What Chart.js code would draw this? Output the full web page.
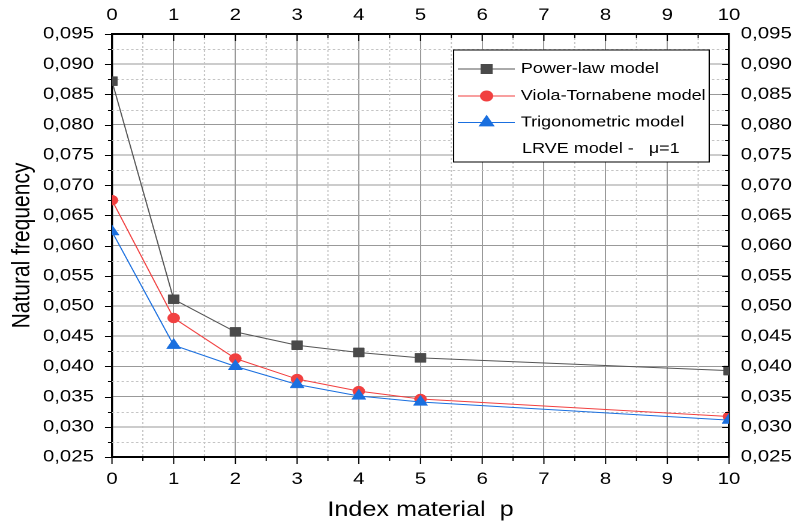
<!DOCTYPE html>
<html>
<head>
<meta charset="utf-8">
<script src="https://cdn.jsdelivr.net/npm/chart.js@4.4.0/dist/chart.umd.min.js"></script>
<style>
  html, body { margin: 0; padding: 0; background: #fff; overflow: hidden; }
  /* canvas laid out narrow, then widened 1.2x so the glyphs come out broad */
  #wrap { width: 663px; height: 524px; transform: scaleX(1.2); transform-origin: 0 0; }
</style>
</head>
<body>
<div id="wrap"><canvas id="freq"></canvas></div>
<script>
// index material p
const indexP = [0, 1, 2, 3, 4, 5, 10];
// natural frequency, LRVE model, mu = 1
const powerLaw = [0.0872, 0.0511, 0.0457, 0.0435, 0.0423, 0.0414, 0.0393];
const violaTornabene = [0.0675, 0.0480, 0.0413, 0.0379, 0.0359, 0.0346, 0.0317];
const trigonometric = [0.0623, 0.0435, 0.0400, 0.0370, 0.0351, 0.0341, 0.0311];

const seriesNames = ['Power-law model', 'Viola-Tornabene model', 'Trigonometric model'];
const legendNote = 'LRVE model -   \u03bc=1';

const xMin = 0, xMax = 10, xStep = 1;
const yMin = 0.025, yMax = 0.095, yStep = 0.005;

Chart.defaults.font.family = "'Liberation Sans', Arial, sans-serif";
Chart.defaults.color = '#000';

const styles = [
  { color: '#4a4a4a', line: '#555555', pointStyle: 'rect', radius: 6.4 },
  { color: '#f14040', line: '#f14040', pointStyle: 'circle', radius: 5 },
  { color: '#1a6fdf', line: '#1a6fdf', pointStyle: 'triangle', radius: 6.8 }
];

function comma(v) {
  return v.toFixed(3).replace('.', ',');
}

function makeSet(i, values) {
  const s = styles[i];
  return {
    label: seriesNames[i],
    data: indexP.map((p, k) => ({ x: p, y: values[k] })),
    borderColor: s.line,
    borderWidth: 1,
    backgroundColor: s.color,
    pointBackgroundColor: s.color,
    pointBorderColor: s.color,
    pointBorderWidth: 0.5,
    pointStyle: s.pointStyle,
    pointRadius: s.radius,
    tension: 0,
    clip: 0,
    order: 2 - i
  };
}

// dotted half-step grid plus the small tick marks round the frame
const frameMarks = {
  id: 'frameMarks',
  beforeDatasetsDraw(chart) {
    const { ctx, chartArea: a, scales: { x, y } } = chart;
    ctx.save();
    ctx.strokeStyle = '#c4c4c4';
    ctx.lineWidth = 1;
    ctx.setLineDash([2, 2]);
    ctx.beginPath();
    for (let v = xMin + xStep / 2; v < xMax; v += xStep) {
      const px = x.getPixelForValue(v);
      ctx.moveTo(px, a.top);
      ctx.lineTo(px, a.bottom);
    }
    for (let v = yMin + yStep / 2; v < yMax; v += yStep) {
      const py = Math.round(y.getPixelForValue(v)) + 0.5;
      ctx.moveTo(a.left, py);
      ctx.lineTo(a.right, py);
    }
    ctx.stroke();
    ctx.restore();
  },
  afterDraw(chart) {
    const { ctx, chartArea: a, scales: { x, y } } = chart;
    ctx.save();
    ctx.strokeStyle = '#000';
    ctx.lineWidth = 1;
    ctx.beginPath();
    for (let v = xMin; v <= xMax + 1e-9; v += xStep / 2) {
      const major = Math.abs(v - Math.round(v)) < 1e-9;
      const len = major ? 7 : 4;
      const px = x.getPixelForValue(v);
      ctx.moveTo(px, a.bottom);
      ctx.lineTo(px, a.bottom + len);   // outward at the bottom
      ctx.moveTo(px, a.top);
      ctx.lineTo(px, a.top + len);      // inward at the top
    }
    for (let k = 0; k <= (yMax - yMin) / yStep * 2 + 1e-6; k++) {
      const v = yMin + k * yStep / 2;
      const len = (k % 2 === 0 ? 7 : 4) / 1.2;
      const py = Math.round(y.getPixelForValue(v)) + 0.5;
      ctx.moveTo(a.left, py);
      ctx.lineTo(a.left - len, py);     // outward on the left
      ctx.moveTo(a.right, py);
      ctx.lineTo(a.right - len, py);    // inward on the right
    }
    ctx.stroke();
    ctx.restore();

    // legend box in the upper right of the plot
    const w = 213, h = 112;
    const left = a.right - 16.5 - w;
    const top = a.top + 16;
    ctx.save();
    ctx.fillStyle = '#fff';
    ctx.fillRect(left, top, w, h);
    ctx.strokeStyle = '#000';
    ctx.lineWidth = 1;
    ctx.strokeRect(left, top, w, h);
    ctx.font = "15px 'Liberation Sans', Arial, sans-serif";
    ctx.textBaseline = 'middle';
    const rowY = [19, 46, 72.5, 99];
    styles.forEach((s, i) => {
      const ry = top + rowY[i];
      ctx.strokeStyle = s.line;
      ctx.lineWidth = 1;
      ctx.beginPath();
      ctx.moveTo(left + 3.5, ry);
      ctx.lineTo(left + 51, ry);
      ctx.stroke();
      ctx.fillStyle = s.color;
      ctx.strokeStyle = s.color;
      Chart.helpers.drawPoint(ctx, { pointStyle: s.pointStyle, radius: s.radius, borderWidth: 0.5, rotation: 0 }, left + 27.5, ry);
      ctx.fillStyle = '#000';
      ctx.fillText(seriesNames[i], left + 56, ry);
    });
    ctx.fillStyle = '#000';
    ctx.fillText(legendNote, left + 57, top + rowY[3]);
    ctx.restore();
  }
};

const tickFont = { size: 17 };
const borderX = { color: '#000', width: 2 };
const borderY = { color: '#000', width: 1.7 };

new Chart(document.getElementById('freq'), {
  type: 'line',
  data: {
    datasets: [
      makeSet(0, powerLaw),
      makeSet(1, violaTornabene),
      makeSet(2, trigonometric)
    ]
  },
  options: {
    responsive: true,
    maintainAspectRatio: false,
    devicePixelRatio: 2,
    animation: false,
    layout: { padding: 0 },
    scales: {
      x: {
        type: 'linear',
        position: 'bottom',
        min: xMin,
        max: xMax,
        ticks: { stepSize: xStep, padding: 12, font: tickFont, maxRotation: 0 },
        grid: { color: '#999', lineWidth: 1, drawTicks: false },
        border: borderX,
        title: {
          display: true,
          text: 'Index material  p',
          font: { size: 21 },
          padding: { top: 0, bottom: 1 }
        },
        afterFit: s => { s.height = 67; }
      },
      xTop: {
        type: 'linear',
        position: 'top',
        min: xMin,
        max: xMax,
        ticks: { stepSize: xStep, padding: 8.5, font: tickFont, maxRotation: 0 },
        grid: { drawOnChartArea: false, drawTicks: false },
        border: borderX,
        afterFit: s => { s.height = 34; }
      },
      y: {
        type: 'linear',
        position: 'left',
        min: yMin,
        max: yMax,
        ticks: { stepSize: yStep, padding: 15, font: tickFont, callback: v => comma(v) },
        grid: { color: '#999', lineWidth: 1, drawTicks: false },
        border: borderY,
        title: {
          display: true,
          text: 'Natural frequency',
          font: { size: 21 },
          padding: { top: 6, bottom: 0 }
        },
        afterFit: s => { s.width = 93.3; }
      },
      yRight: {
        type: 'linear',
        position: 'right',
        min: yMin,
        max: yMax,
        ticks: { stepSize: yStep, padding: 9.8, font: tickFont, callback: v => comma(v) },
        grid: { drawOnChartArea: false, drawTicks: false },
        border: borderY,
        afterFit: s => { s.width = 55.5; }
      }
    },
    plugins: {
      legend: { display: false },
      tooltip: { enabled: false }
    }
  },
  plugins: [frameMarks]
});
</script>
</body>
</html>
